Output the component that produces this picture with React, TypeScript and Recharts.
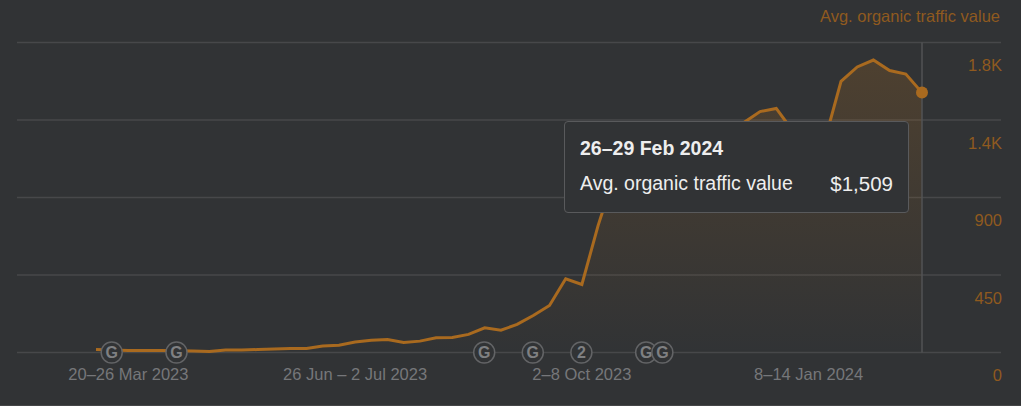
import { AreaChart, Area, XAxis, YAxis, CartesianGrid, Tooltip, ReferenceDot } from 'recharts';

const weeks = [
  '6–12 Mar 2023', '13–19 Mar 2023', '20–26 Mar 2023', '27 Mar – 2 Apr 2023', '3–9 Apr 2023', '10–16 Apr 2023',
  '17–23 Apr 2023', '24–30 Apr 2023', '1–7 May 2023', '8–14 May 2023', '15–21 May 2023', '22–28 May 2023',
  '29 May – 4 Jun 2023', '5–11 Jun 2023', '12–18 Jun 2023', '19–25 Jun 2023', '26 Jun – 2 Jul 2023', '3–9 Jul 2023',
  '10–16 Jul 2023', '17–23 Jul 2023', '24–30 Jul 2023', '31 Jul – 6 Aug 2023', '7–13 Aug 2023', '14–20 Aug 2023',
  '21–27 Aug 2023', '28 Aug – 3 Sep 2023', '4–10 Sep 2023', '11–17 Sep 2023', '18–24 Sep 2023', '25 Sep – 1 Oct 2023',
  '2–8 Oct 2023', '9–15 Oct 2023', '16–22 Oct 2023', '23–29 Oct 2023', '30 Oct – 5 Nov 2023', '6–12 Nov 2023',
  '13–19 Nov 2023', '20–26 Nov 2023', '27 Nov – 3 Dec 2023', '4–10 Dec 2023', '11–17 Dec 2023', '18–24 Dec 2023',
  '25–31 Dec 2023', '1–7 Jan 2024', '8–14 Jan 2024', '15–21 Jan 2024', '22–28 Jan 2024', '29 Jan – 4 Feb 2024',
  '5–11 Feb 2024', '12–18 Feb 2024', '19–25 Feb 2024', '26–29 Feb 2024',
];

const trafficValue = [
  17, 14, 12, 12, 11, 10, 9, 6, 15, 15, 17, 20, 23, 23, 38, 42, 61, 71, 75, 58, 66, 85, 87, 105, 143, 129,
  163, 215, 273, 428, 395, 737, 1028, 1115, 1173, 1202, 1231, 1260, 1289, 1312, 1335, 1399, 1417, 1289, 1173, 1231,
  1574, 1658, 1698, 1637, 1617, 1509,
];

const xTicks = ['20–26 Mar 2023', '26 Jun – 2 Jul 2023', '2–8 Oct 2023', '8–14 Jan 2024'];
const yTicks = [0, 450, 900, 1350, 1800];
const yTickLabels = ['0', '450', '900', '1.4K', '1.8K'];

const markerWeeks = [
  '13–19 Mar 2023', '10–16 Apr 2023', '21–27 Aug 2023', '11–17 Sep 2023', '2–8 Oct 2023', '30 Oct – 5 Nov 2023', '6–12 Nov 2023',
];
const markerLabels = ['G', 'G', 'G', 'G', '2', 'G', 'G'];

const chartData = weeks.map((week, i) => ({ week, value: trafficValue[i] }));

const ORANGE = '#a96a1f';
const ORANGE_TEXT = '#8f5a1f';
const FONT = '"Liberation Sans", Arial, sans-serif';

function YTick({ y, payload }: any) {
  return (
    <text x={1002} y={y + 28.5} textAnchor="end" fill={ORANGE_TEXT} fontSize={16.5} fontFamily={FONT}>
      {yTickLabels[yTicks.indexOf(payload.value)]}
    </text>
  );
}

function Marker({ cx, cy, label }: any) {
  return (
    <g>
      <circle cx={cx - 0.5} cy={cy} r={10.5} fill="#313335" stroke="#636466" strokeWidth={1.5} />
      <text x={cx - 0.5} y={cy + 5.5} textAnchor="middle" fill="#7f8082" fontSize={16} fontWeight="bold" fontFamily={FONT}>
        {label}
      </text>
    </g>
  );
}

function TooltipBox({ active, payload }: any) {
  if (!active || !payload || !payload.length) return null;
  return (
    <div
      style={{
        width: 345,
        height: 92,
        boxSizing: 'border-box',
        padding: '15px 15px 0',
        background: '#313335',
        border: '1px solid #595a5c',
        borderRadius: 4,
        fontFamily: FONT,
        color: '#eeeeee',
      }}
    >
      <div style={{ fontSize: 19.5, fontWeight: 'bold', lineHeight: '23px' }}>{payload[0].payload.week}</div>
      <div style={{ display: 'flex', justifyContent: 'space-between', fontSize: 19.5, lineHeight: '23px', marginTop: 12 }}>
        <span>Avg. organic traffic value</span>
        <span style={{ fontSize: 20.5 }}>${payload[0].value.toLocaleString('en-US')}</span>
      </div>
    </div>
  );
}

export default function App() {
  return (
    <div style={{ position: 'fixed', left: 0, top: 0, width: 1021, height: 406, background: '#313335', overflow: 'hidden' }}>
      <div
        style={{
          position: 'absolute',
          right: 21,
          top: 7,
          fontFamily: FONT,
          fontSize: 16.5,
          color: ORANGE_TEXT,
        }}
      >
        Avg. organic traffic value
      </div>
      <div style={{ position: 'absolute', left: 0, right: 0, bottom: 0, height: 1, background: '#444547' }} />
      <AreaChart width={1021} height={406} data={chartData} margin={{ top: 42.5, right: 0, bottom: 0, left: 17 }}>
        <defs>
          <linearGradient id="valueFill" x1="0" y1="0" x2="0" y2="1">
            <stop offset="0%" stopColor={ORANGE} stopOpacity={0.4} />
            <stop offset="100%" stopColor={ORANGE} stopOpacity={0} />
          </linearGradient>
        </defs>
        <CartesianGrid horizontal vertical={false} stroke="#47484a" strokeWidth={1.5} />
        <XAxis
          dataKey="week"
          scale="point"
          padding={{ left: 79, right: 79 }}
          ticks={xTicks}
          interval={0}
          axisLine={false}
          tickLine={false}
          height={53.5}
          tick={{ fill: '#76777a', fontSize: 16.5, fontFamily: FONT }}
          tickMargin={10}
        />
        <YAxis
          orientation="right"
          width={20}
          domain={[0, 1800]}
          ticks={yTicks}
          axisLine={false}
          tickLine={false}
          tick={<YTick />}
        />
        <Tooltip
          active
          defaultIndex={51}
          position={{ x: 564, y: 121 }}
          content={<TooltipBox />}
          cursor={{ stroke: '#525355', strokeWidth: 1.5 }}
          isAnimationActive={false}
        />
        <Area
          type="linear"
          dataKey="value"
          stroke={ORANGE}
          strokeWidth={3}
          fill="url(#valueFill)"
          dot={false}
          activeDot={{ r: 6, fill: ORANGE, stroke: 'none' }}
          isAnimationActive={false}
        />
        {markerWeeks.map((week, i) => (
          <ReferenceDot key={week} x={week} y={0} ifOverflow="visible" shape={<Marker label={markerLabels[i]} />} />
        ))}
      </AreaChart>
    </div>
  );
}
